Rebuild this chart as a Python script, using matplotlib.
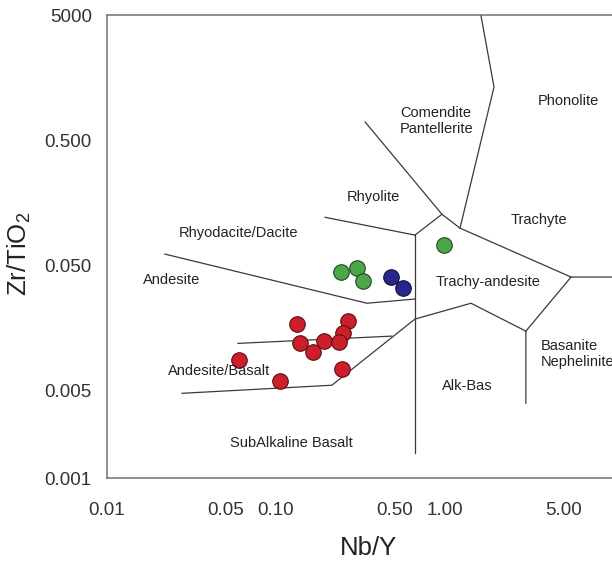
import matplotlib
matplotlib.use('Agg')
import matplotlib.pyplot as plt
from matplotlib.ticker import NullLocator

plt.rcParams['font.family'] = ['Liberation Sans', 'DejaVu Sans']
plt.rcParams['mathtext.fontset'] = 'custom'
plt.rcParams['mathtext.rm'] = 'Liberation Sans'

# field boundaries (Nb/Y, Zr/TiO2)
rhyodacite_x = [0.022, 0.345, 0.664]
rhyodacite_y = [0.0615, 0.0249, 0.0269]
rhyolite_x = [0.195, 0.664]
rhyolite_y = [0.121, 0.0872]
split_x = [0.664, 0.664]
split_y = [0.0872, 0.00158]
comendite_x = [0.664, 0.959, 0.337]
comendite_y = [0.0872, 0.128, 0.698]
trachyte_x = [0.959, 1.227, 5.57, 10.0]
trachyte_y = [0.128, 0.0991, 0.0403, 0.0403]
phonolite_x = [1.227, 1.95, 1.63]
phonolite_y = [0.0991, 1.33, 5.0]
basanite_x = [5.57, 3.01, 3.01]
basanite_y = [0.0403, 0.0149, 0.00396]
alkbas_x = [3.01, 1.425, 0.664, 0.214, 0.0278]
alkbas_y = [0.0149, 0.0249, 0.0186, 0.00551, 0.00475]
andbas_x = [0.0596, 0.485]
andbas_y = [0.0119, 0.0136]

# samples
red_x = [0.133, 0.266, 0.248, 0.139, 0.193, 0.237, 0.165, 0.060, 0.247, 0.106]
red_y = [0.0169, 0.0179, 0.0144, 0.0120, 0.0125, 0.0122, 0.0102, 0.0087, 0.0074, 0.0060]
green_x = [0.242, 0.300, 0.329, 0.982]
green_y = [0.0444, 0.0475, 0.0374, 0.0725]
blue_x = [0.479, 0.562]
blue_y = [0.0405, 0.0330]

xticks = [0.01, 0.05, 0.1, 0.5, 1, 5]
xlabels = ['0.01', '0.05', '0.10', '0.50', '1.00', '5.00']
yticks = [0.001, 0.005, 0.05, 0.5, 5]
ylabels = ['0.001', '0.005', '0.050', '0.500', '5000']

# field names with their position in picture pixels
field_names = ['Comendite\nPantellerite', 'Phonolite', 'Trachyte', 'Trachy-andesite', 'Rhyolite',
               'Rhyodacite/Dacite', 'Andesite', 'Andesite/Basalt', 'SubAlkaline Basalt',
               'Alk-Bas', 'Basanite\nNephelinite']
field_px = [(400, 121), (568, 101), (539, 220), (488, 282), (373, 197),
            (239, 233), (172, 280), (219, 371), (291, 443), (467, 386), (541, 354)]
field_ha = ['left', 'center', 'center', 'center', 'center',
            'center', 'center', 'center', 'center', 'center', 'left']

W, H = 612, 564
fig = plt.figure(figsize=(W / 100, H / 100), dpi=100)
ax = fig.add_axes([107 / W, 86 / H, 507 / W, 463 / H])
ax.set_xscale('log')
ax.set_yscale('log')
ax.set_xlim(0.01, 10)
ax.set_ylim(0.001, 5)

lc = '#3a3a3a'
for xs, ys in [(rhyodacite_x, rhyodacite_y), (rhyolite_x, rhyolite_y), (split_x, split_y),
               (comendite_x, comendite_y), (trachyte_x, trachyte_y), (phonolite_x, phonolite_y),
               (basanite_x, basanite_y), (alkbas_x, alkbas_y), (andbas_x, andbas_y)]:
    ax.plot(xs, ys, color=lc, lw=0.9, zorder=2)

ms = 125
ax.scatter(red_x, red_y, s=ms, color='#cc1f2b', edgecolor='#5a1010', lw=0.8, zorder=3)
ax.scatter(green_x, green_y, s=ms, color='#4da64a', edgecolor='#1f4a1f', lw=0.8, zorder=3)
ax.scatter(blue_x, blue_y, s=ms, color='#27268c', edgecolor='#10103a', lw=0.8, zorder=3)

tc = '#222222'
for name, (px, py), ha in zip(field_names, field_px, field_ha):
    fig.text(px / W, 1 - py / H, name, fontsize=10.5, color=tc, ha=ha, va='center',
             linespacing=1.1, zorder=4)

ax.set_xticks(xticks)
ax.set_xticklabels(xlabels)
ax.set_yticks(yticks)
ax.set_yticklabels(ylabels)
ax.xaxis.set_minor_locator(NullLocator())
ax.yaxis.set_minor_locator(NullLocator())
ax.tick_params(axis='both', length=0, labelsize=13.5, labelcolor='#333333')
ax.tick_params(axis='x', pad=17)
ax.tick_params(axis='y', pad=11)

for sp in ax.spines.values():
    sp.set_color('#707070')
    sp.set_linewidth(1.1)

fig.text(368 / W, 1 - 548 / H, 'Nb/Y', fontsize=18.5, color=tc, ha='center', va='center')
fig.text(19 / W, 1 - 254 / H, 'Zr/TiO$_2$', fontsize=18.5, color=tc, ha='center', va='center',
         rotation=90)

fig.savefig('out.png', dpi=100)
